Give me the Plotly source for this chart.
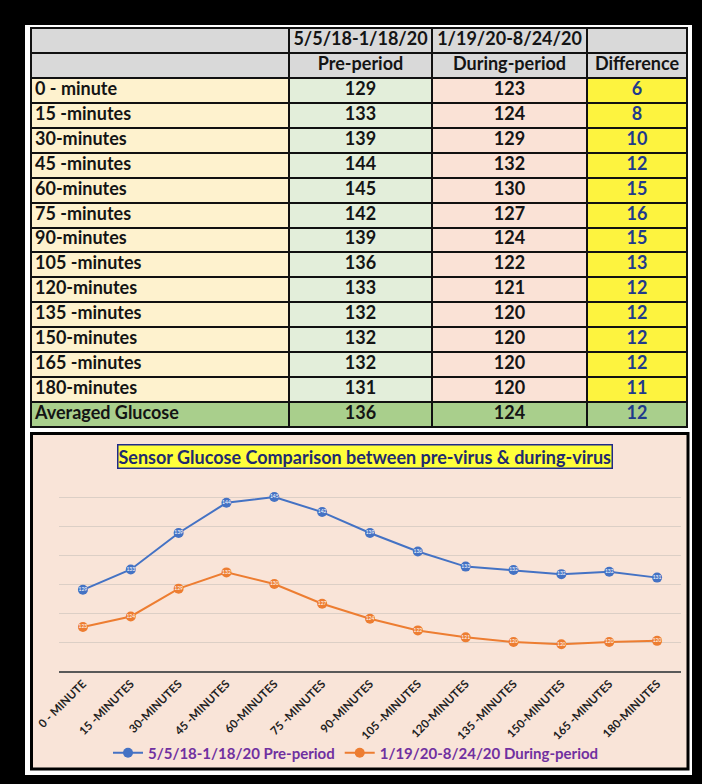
import plotly.graph_objects as go

W, H = 702, 784

# ---------------- data ----------------
row_labels = ["0 - minute", "15 -minutes", "30-minutes", "45 -minutes", "60-minutes",
              "75 -minutes", "90-minutes", "105 -minutes", "120-minutes", "135 -minutes",
              "150-minutes", "165 -minutes", "180-minutes"]
pre_period = [129, 133, 139, 144, 145, 142, 139, 136, 133, 132, 132, 132, 131]
during_period = [123, 124, 129, 132, 130, 127, 124, 122, 121, 120, 120, 120, 120]
difference = [6, 8, 10, 12, 15, 16, 15, 13, 12, 12, 12, 12, 11]
avg_label = "Averaged Glucose"
avg_pre, avg_during, avg_diff = 136, 124, 12
header_dates = ["", "5/5/18-1/18/20", "1/19/20-8/24/20", ""]
header_names = ["", "Pre-period", "During-period", "Difference"]
# chart points as plotted (unrounded values)
pre_period_chart = [129.0, 132.5, 138.8, 144.0, 145.0, 142.4, 138.8, 135.6, 133.0,
                    132.4, 131.7, 132.1, 131.1]
during_period_chart = [122.6, 124.4, 129.2, 132.0, 130.0, 126.6, 124.0, 122.0, 120.8,
                       120.0, 119.6, 120.0, 120.2]
series_names = ["5/5/18-1/18/20 Pre-period", "1/19/20-8/24/20 During-period"]
chart_title = "Sensor Glucose Comparison between pre-virus & during-virus"

# ---------------- layout helpers ----------------
col_edges = [0, 258, 401, 556, 656]          # table column edges (px units)


def px(x):
    return x / W


def py(y):
    return 1 - y / H


def b(v):
    return f"<b>{v}</b>"


fig = go.Figure()

# ---------------- table (heatmap cells + text) ----------------
n = len(row_labels)
rows_text = [header_dates, header_names]
for lab, p, d, df in zip(row_labels, pre_period, during_period, difference):
    rows_text.append([lab, str(p), str(d), str(df)])
rows_text.append([avg_label, str(avg_pre), str(avg_during), str(avg_diff)])
nrows = len(rows_text)

# colour codes: 0 gray header, 1 label col, 2 pre col, 3 during col, 4 diff col, 5 avg row
z = [[0, 0, 0, 0], [0, 0, 0, 0]] + [[1, 2, 3, 4] for _ in range(n)] + [[5, 5, 5, 5]]
cell_colors = ["#D9D9D9", "#FEF2CE", "#E3EEDA", "#FAE2D6", "#FDF33F", "#A9CF8C"]
cscale = [[i / 5, c] for i, c in enumerate(cell_colors)]

fig.add_trace(go.Heatmap(
    z=z, x=col_edges, y=list(range(nrows + 1)),
    colorscale=cscale, zmin=0, zmax=5, showscale=False,
    xgap=2, ygap=2, hoverinfo="skip",
    xaxis="x2", yaxis="y2",
))

txt = "#141414"
blue_txt = "#1F3A8C"
for ci in range(4):
    if ci == 0:
        xs = [col_edges[0] + 4] * nrows
        pos = "middle right"
    else:
        xs = [(col_edges[ci] + col_edges[ci + 1]) / 2] * nrows
        pos = "middle center"
    colors_c = [txt] * nrows if ci < 3 else [txt] + [txt] + [blue_txt] * (nrows - 2)
    fig.add_trace(go.Scatter(
        x=xs, y=[r + 0.5 for r in range(nrows)],
        text=[b(rows_text[r][ci]) for r in range(nrows)],
        mode="text", textposition=pos,
        textfont=dict(family="Lato", size=18, color=colors_c),
        hoverinfo="skip", showlegend=False, xaxis="x2", yaxis="y2",
    ))

# ---------------- chart ----------------
cats = [s.upper() for s in row_labels]
colors = ["#4472C4", "#ED7D31"]
for name, vals, labels, c in zip(series_names, [pre_period_chart, during_period_chart],
                                 [pre_period, during_period], colors):
    fig.add_trace(go.Scatter(
        x=cats, y=vals, name=b(name), mode="lines+markers+text",
        line=dict(color=c, width=2),
        marker=dict(color=c, size=10, symbol="circle"),
        text=[str(v) for v in labels], textposition="middle center",
        textfont=dict(family="Lato", size=5, color="white"),
        cliponaxis=False, hoverinfo="x+y",
    ))

fig.update_layout(
    width=W, height=H,
    margin=dict(l=0, r=0, t=0, b=0, autoexpand=False),
    paper_bgcolor="black",
    plot_bgcolor="rgba(0,0,0,0)",
    showlegend=True,
    legend=dict(orientation="h", x=px(356), xanchor="center", y=py(753), yanchor="middle",
                bgcolor="rgba(0,0,0,0)", itemwidth=30,
                font=dict(family="Lato", size=15, color="#7030A0"),
                tracegroupgap=0),
    xaxis=dict(domain=[px(59), px(681)], type="category", range=[-0.5, 12.5],
               showgrid=False, showline=True, linecolor="#595959", linewidth=1.5,
               tickangle=-45, ticks="", automargin=False,
               tickfont=dict(family="Lato", size=11.5, color="#222222", weight="bold"),
               anchor="y"),
    yaxis=dict(domain=[py(671), py(468)], range=[115, 150], dtick=5,
               showgrid=True, gridcolor="#DCCFC6", gridwidth=1, automargin=False,
               showticklabels=False, zeroline=False, showline=False, ticks=""),
    xaxis2=dict(domain=[px(31), px(687)], range=[col_edges[0], col_edges[-1]],
                visible=False, anchor="y2", fixedrange=True),
    yaxis2=dict(domain=[py(427), py(28)], range=[nrows, 0],
                visible=False, anchor="x2", fixedrange=True),
    shapes=[
        dict(type="rect", xref="paper", yref="paper", x0=px(25), x1=px(692),
             y0=py(775), y1=py(25), fillcolor="white", line=dict(width=0), layer="below"),
        dict(type="rect", xref="paper", yref="paper", x0=px(30), x1=px(688),
             y0=py(428), y1=py(27), fillcolor="#111111", line=dict(width=0), layer="below"),
        dict(type="rect", xref="paper", yref="paper", x0=px(31.5), x1=px(688),
             y0=py(769), y1=py(433.5), fillcolor="#F9E4D8",
             line=dict(color="black", width=3), layer="below"),
    ],
    annotations=[
        dict(xref="paper", yref="paper", x=px(365), y=py(456), xanchor="center",
             yanchor="middle", showarrow=False, text=b(chart_title),
             font=dict(family="Lato", size=18, color="#1F2A70"),
             bgcolor="#FFFF3A", bordercolor="#1F2A8A", borderwidth=1.5, borderpad=0),
    ],
)

fig.write_html(
    "out.html",
    config={"displayModeBar": False},
    post_script="document.body.style.margin='0';document.body.style.overflow='hidden';",
)
